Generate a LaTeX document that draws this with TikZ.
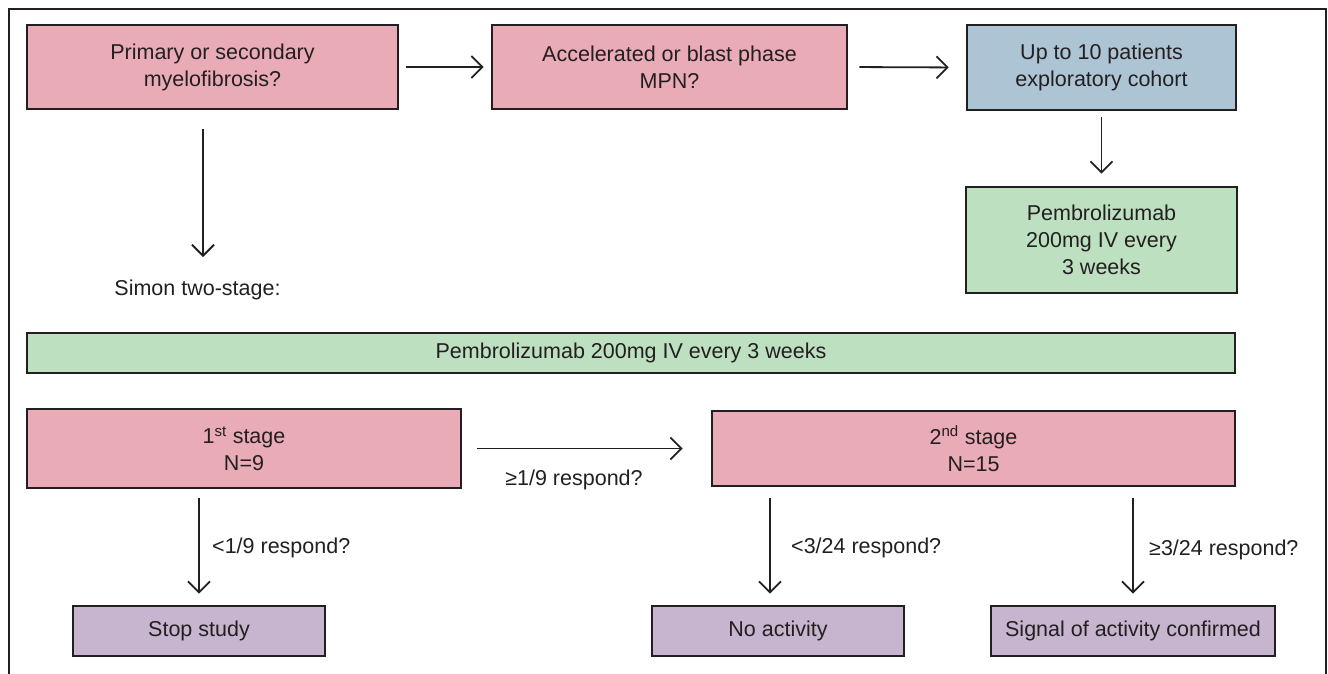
\documentclass[tikz,border=0pt]{standalone}
\usepackage{fontspec}
\setmainfont{Liberation Sans}
\usetikzlibrary{arrows.meta}
\definecolor{pinkc}{HTML}{E9ABB6}
\definecolor{bluec}{HTML}{ACC4D4}
\definecolor{greenc}{HTML}{BDE0C1}
\definecolor{purplec}{HTML}{C7B5CF}
\definecolor{inkc}{HTML}{231F20}
\tikzset{
  boxbase/.style={draw=inkc, line width=2.6pt, inner sep=0pt, align=center, text=inkc,
    font=\fontsize{21.5}{27}\selectfont},
  pinkbox/.style={boxbase, fill=pinkc},
  bluebox/.style={boxbase, fill=bluec},
  greenbox/.style={boxbase, fill=greenc},
  purplebox/.style={boxbase, fill=purplec},
  lbl/.style={text=inkc, inner sep=0pt, font=\fontsize{21.5}{27}\selectfont},
  arr/.style={draw=inkc, line width=1.8pt, -{Straight Barb[length=11pt,width=22pt,line width=1.8pt]}},
}
\begin{document}
\begin{tikzpicture}[x=1pt,y=-1pt]
\useasboundingbox (0,0) rectangle (1328,673);
\draw[inkc, line width=2.6pt] (9,675) -- (9,9) -- (1326,9) -- (1326,675);

\node[pinkbox, minimum width=371pt, minimum height=84pt] (b1) at (212.5,67) {Primary or secondary\\myelofibrosis?};
\node[pinkbox, minimum width=355pt, minimum height=84pt] (b2) at (669.5,67) {Accelerated or blast phase\\MPN?};
\node[bluebox, minimum width=269pt, minimum height=85pt] (b3) at (1101.5,67.5) {Up to 10 patients\\exploratory cohort};
\node[greenbox, minimum width=271pt, minimum height=106pt] (b4) at (1101.5,240) {Pembrolizumab\\200mg IV every\\3 weeks};

\node[lbl] (simon) at (197.5,290) {Simon two-stage:};
\coordinate (a1end) at (203,257);

\node[greenbox, minimum width=1208pt, minimum height=40pt] (bar) at (631,353) {Pembrolizumab 200mg IV every 3 weeks};

\node[pinkbox, minimum width=434pt, minimum height=79pt] (s1) at (244,448.5) {1\textsuperscript{st} stage\\N=9};
\node[pinkbox, minimum width=523pt, minimum height=75pt] (s2) at (973.5,448.5) {2\textsuperscript{nd} stage\\N=15};

\node[purplebox, minimum width=252pt, minimum height=50pt] (stop) at (199,631) {Stop study};
\node[purplebox, minimum width=252pt, minimum height=50pt] (noact) at (778,631) {No activity};
\node[purplebox, minimum width=284pt, minimum height=50pt] (sig) at (1133,631) {Signal of activity confirmed};

\draw[arr, shorten <=7pt, shorten >=7pt] (b1.east) -- (b2.west);
\draw[arr, shorten <=11pt, shorten >=17pt] (b2.east) -- (b3.west);
\draw[arr, shorten <=6pt, shorten >=12pt] (b3.south) -- (b4.north);
\draw[arr] ([yshift=-19pt]b1.south -| a1end) -- (a1end);

\draw[arr, shorten <=15pt, shorten >=28pt] (s1.east) -- (s2.west);
\node[lbl] (l1) at (574,480) {≥1/9 respond?};

\coordinate (c1) at (199,0);
\draw[arr, shorten <=9pt, shorten >=11pt] (s1.south -| c1) -- (stop.north -| c1);
\node[lbl, anchor=west] (l2) at (212,548) {<1/9 respond?};

\coordinate (c2) at (770,0);
\draw[arr, shorten <=11pt, shorten >=11pt] (s2.south -| c2) -- (noact.north -| c2);
\node[lbl, anchor=west] (l3) at (791,548) {<3/24 respond?};

\coordinate (c3) at (1133,0);
\draw[arr, shorten <=11pt, shorten >=11pt] (s2.south -| c3) -- (sig.north -| c3);
\node[lbl, anchor=west] (l4) at (1149,550) {≥3/24 respond?};
\end{tikzpicture}
\end{document}
